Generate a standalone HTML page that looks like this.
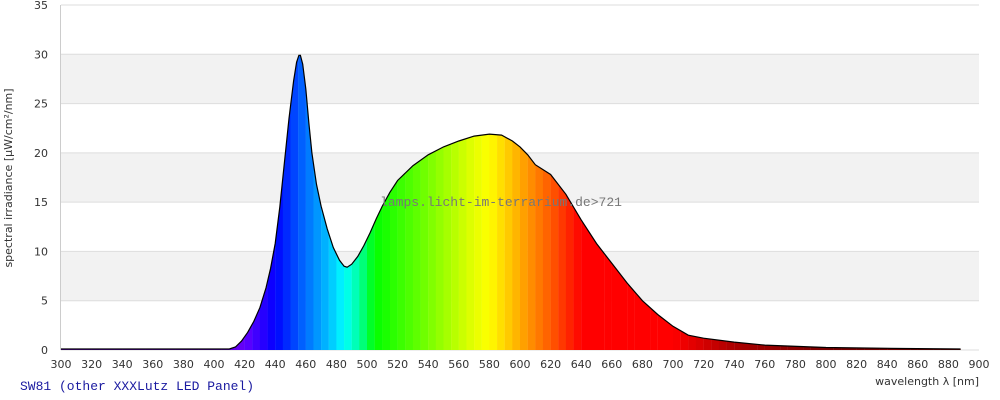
<!DOCTYPE html><html><head><style>body{margin:0;background:#fff}svg{display:block}</style></head><body>
<svg id="s" width="1000" height="400" xmlns="http://www.w3.org/2000/svg" font-family="DejaVu Sans, Liberation Sans, sans-serif">
<defs>
<clipPath id="c"><path id="cp"/></clipPath>
</defs>
<rect x="61" y="5" width="918" height="345" fill="#fff"/>
<g id="bands"></g>
<g id="grid" stroke="#ddd" stroke-width="1"></g>
<g clip-path="url(#c)" id="strips"></g>
<path id="ln" fill="none" stroke="#000" stroke-width="1.2"/>
<line x1="60.5" y1="5" x2="60.5" y2="350" stroke="#ccc"/>
<g id="lab" font-size="11" fill="#333"></g>
<text x="501" y="206" font-family="Liberation Mono, monospace" font-size="13" fill="#777" text-anchor="middle">lamps.licht-im-terrarium.de&gt;721</text>
<text x="20" y="390" font-family="Liberation Mono, monospace" font-size="13" fill="#1a1aa0">SW81 (other XXXLutz LED Panel)</text>
<text x="979" y="385" font-size="11" fill="#333" text-anchor="end">wavelength λ [nm]</text>
<text transform="translate(12,178) rotate(-90)" font-size="11" fill="#333" text-anchor="middle">spectral irradiance [µW/cm²/nm]</text>
</svg>
<script>
const X=n=>61+(n-300)*1.53, Y=v=>350-v*9.857, NS="http://www.w3.org/2000/svg";
function el(t,a,p){const e=document.createElementNS(NS,t);for(const k in a)e.setAttribute(k,a[k]);p.appendChild(e);return e;}
const bands=document.getElementById('bands'),grid=document.getElementById('grid'),lab=document.getElementById('lab');
for(const v of [5,15,25]) el('rect',{x:61,y:Y(v+5),width:918,height:5*9.857,fill:'#f2f2f2'},bands);
for(let v=0;v<=35;v+=5){el('line',{x1:61,x2:979,y1:Y(v),y2:Y(v)},grid);const t=el('text',{x:48,y:Y(v)+4,'text-anchor':'end'},lab);t.textContent=v;}
for(let n=300;n<=900;n+=20){const t=el('text',{x:X(n),y:368,'text-anchor':'middle'},lab);t.textContent=n;}
const d=[[300,.1],[410,.1],[414,.3],[418,.9],[422,1.8],[426,2.9],[430,4.3],[434,6.3],[437,8.3],[440,10.8],[443,14.5],[446,19],[449,23.5],[452,27.3],[454,29.2],[455.5,29.9],[456.5,29.9],[458,29],[460,26.5],[462,23],[464,20],[467,16.8],[470,14.6],[474,12.3],[478,10.4],[482,9.1],[485,8.5],[487,8.4],[490,8.7],[494,9.5],[498,10.6],[502,11.9],[506,13.3],[510,14.6],[515,16],[520,17.2],[530,18.7],[540,19.8],[550,20.6],[560,21.2],[570,21.7],[580,21.9],[588,21.8],[595,21.2],[600,20.6],[605,19.8],[610,18.8],[620,17.8],[630,15.8],[640,13.2],[650,10.8],[660,8.8],[670,6.8],[680,5],[690,3.6],[700,2.4],[710,1.5],[720,1.2],[740,.8],[760,.5],[800,.25],[850,.15],[888,.1]];
let p='M'+d.map(a=>X(a[0]).toFixed(1)+','+Y(a[1]).toFixed(1)).join(' L');
document.getElementById('ln').setAttribute('d',p);
document.getElementById('cp').setAttribute('d',p+' L'+X(888)+',350 L61,350 Z');
const cs=[[400,[96,0,192]],[420,[100,0,255]],[440,[0,0,255]],[460,[0,110,255]],[475,[0,190,255]],[485,[0,255,255]],[495,[0,255,160]],[505,[0,255,0]],[540,[120,255,0]],[570,[230,255,0]],[580,[255,255,0]],[600,[255,170,0]],[620,[255,90,0]],[640,[255,0,0]],[700,[255,0,0]],[740,[170,0,0]],[800,[120,0,0]],[900,[100,0,0]]];
function col(n){if(n<=cs[0][0])return cs[0][1];for(let i=1;i<cs.length;i++)if(n<=cs[i][0]){const a=cs[i-1],b=cs[i],t=(n-a[0])/(b[0]-a[0]);return a[1].map((v,k)=>Math.round(v+(b[1][k]-v)*t));}return cs[cs.length-1][1];}
const st=document.getElementById('strips');
for(let n=300;n<900;n+=5){const c=col(n+2.5);el('rect',{x:X(n),y:5,width:7.8,height:345,fill:'rgb('+c.join(',')+')'},st);}
</script>
</body></html>
